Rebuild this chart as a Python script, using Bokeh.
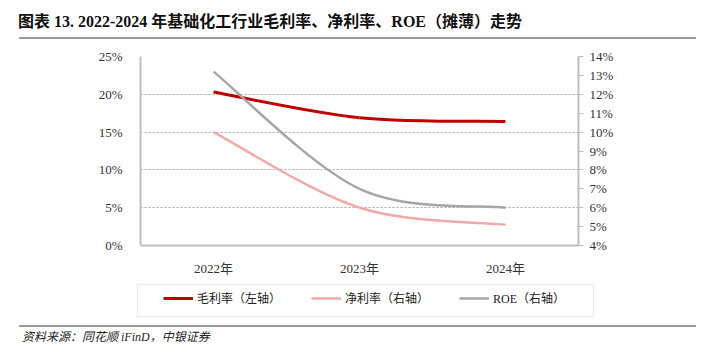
from bokeh.plotting import figure
from bokeh.layouts import column, row
from bokeh.models import (Range1d, LinearAxis, FixedTicker, PrintfTickFormatter,
                          Legend, LegendItem, ColumnDataSource, BoxAnnotation, Div)
from bokeh.embed import file_html
from bokeh.resources import INLINE

# ---------------- data ----------------
years = ["2022年", "2023年", "2024年"]
gross_margin = [20.3, 16.9, 16.4]   # 毛利率, left axis (%)
net_margin = [10.0, 6.0, 5.1]       # 净利率, right axis (%)
roe = [13.2, 7.0, 6.0]              # ROE（摊薄）, right axis (%)
left_ticks = [0, 5, 10, 15, 20, 25]
right_ticks = [4, 5, 6, 7, 8, 9, 10, 11, 12, 13, 14]
legend_labels = ["毛利率（左轴）", "净利率（右轴）", "ROE（右轴）"]
title_text = "图表 13. 2022-2024 年基础化工行业毛利率、净利率、ROE（摊薄）走势"
source_text = "资料来源：同花顺 iFinD，中银证券"

# ---------------- styles / layout ----------------
W = 715
TITLE_H, MAIN_H, LEG_H, SRC_H = 44, 234, 47, 39
FRAME_L, FRAME_R = 140, 578          # page x of frame edges
FRAME_T, FRAME_B = 56, 251           # page y of frame edges

SERIF = "Liberation Serif, Noto Sans CJK SC"
SERIF_CSS = "'Liberation Serif','Noto Sans CJK SC',serif"
AXIS_GRAY = "#BFBFBF"
TEXT = "#333333"
RULE = "#9A9A9A"
C_GM, C_NM, C_ROE = "#C00000", "#F2A9A9", "#A6A6A6"
W_GM, W_NM, W_ROE = 3, 2.5, 2.5
NAN = float("nan")

# ---------------- title strip ----------------
title_div = Div(width=W, height=TITLE_H, margin=0, text=(
    f'<div style="position:relative;width:{W}px;height:{TITLE_H}px;">'
    f'<div style="position:absolute;left:18px;top:12px;font-family:{SERIF_CSS};'
    f'font-size:16px;font-weight:bold;line-height:20px;color:#111111;white-space:nowrap;">'
    f'{title_text}</div>'
    f'<div style="position:absolute;left:19px;top:37px;width:677px;height:2px;background:{RULE};"></div>'
    f'</div>'))

# ---------------- main chart ----------------
top0 = TITLE_H
p = figure(width=W, height=MAIN_H, output_backend="svg", toolbar_location=None,
           x_range=Range1d(0, len(years)), y_range=Range1d(left_ticks[0], left_ticks[-1]),
           min_border_left=FRAME_L, min_border_right=W - FRAME_R,
           min_border_top=FRAME_T - top0,
           min_border_bottom=(top0 + MAIN_H) - FRAME_B)
p.extra_y_ranges = {"right": Range1d(right_ticks[0], right_ticks[-1])}
p.outline_line_color = None
p.background_fill_color = "white"
p.border_fill_color = "white"

xs = [i + 0.5 for i in range(len(years))]

xa = p.xaxis[0]
xa.ticker = FixedTicker(ticks=xs)
xa.major_label_overrides = {x: y for x, y in zip(xs, years)}
xa.axis_line_color = AXIS_GRAY
xa.axis_line_width = 2
xa.major_tick_line_color = None
xa.minor_tick_line_color = None
xa.major_label_standoff = 9
xa.major_label_text_font = SERIF
xa.major_label_text_font_size = "13px"
xa.major_label_text_color = TEXT

ya = p.yaxis[0]
ya.ticker = FixedTicker(ticks=left_ticks)
ya.formatter = PrintfTickFormatter(format="%d%%")
ya.axis_line_color = AXIS_GRAY
ya.axis_line_width = 2
ya.major_tick_line_color = None
ya.minor_tick_line_color = None
ya.major_label_standoff = 12
ya.major_label_text_font = SERIF
ya.major_label_text_font_size = "13px"
ya.major_label_text_color = TEXT

ra = LinearAxis(y_range_name="right", ticker=FixedTicker(ticks=right_ticks),
                formatter=PrintfTickFormatter(format="%d%%"))
ra.axis_line_color = AXIS_GRAY
ra.axis_line_width = 2
ra.major_tick_line_color = AXIS_GRAY
ra.major_tick_out = 5
ra.major_tick_in = 0
ra.minor_tick_line_color = None
ra.major_label_standoff = 6
ra.major_label_text_font = SERIF
ra.major_label_text_font_size = "13px"
ra.major_label_text_color = TEXT
p.add_layout(ra, "right")

p.xgrid.grid_line_color = None
p.ygrid.ticker = FixedTicker(ticks=left_ticks)
p.ygrid.grid_line_color = "#A6A6A6"
p.ygrid.grid_line_dash = "2 2"
p.ygrid.grid_line_width = 1


def smooth_segments(xv, yv):
    """Bezier control points (Catmull-Rom style smoothing through the data points)."""
    n = len(xv)
    P = list(zip(xv, yv))

    def pt(i):
        return P[min(max(i, 0), n - 1)]

    d = {k: [] for k in ["x0", "y0", "x1", "y1", "cx0", "cy0", "cx1", "cy1"]}
    for i in range(n - 1):
        a, b, c, e = pt(i - 1), pt(i), pt(i + 1), pt(i + 2)
        d["x0"].append(b[0]); d["y0"].append(b[1])
        d["x1"].append(c[0]); d["y1"].append(c[1])
        d["cx0"].append(b[0] + (c[0] - a[0]) / 6); d["cy0"].append(b[1] + (c[1] - a[1]) / 6)
        d["cx1"].append(c[0] - (e[0] - b[0]) / 6); d["cy1"].append(c[1] - (e[1] - b[1]) / 6)
    return ColumnDataSource(d)


bz = dict(x0="x0", y0="y0", x1="x1", y1="y1", cx0="cx0", cy0="cy0", cx1="cx1", cy1="cy1")
p.bezier(source=smooth_segments(xs, gross_margin), line_color=C_GM, line_width=W_GM, **bz)
p.bezier(source=smooth_segments(xs, roe), line_color=C_ROE, line_width=W_ROE,
         y_range_name="right", **bz)
p.bezier(source=smooth_segments(xs, net_margin), line_color=C_NM, line_width=W_NM,
         y_range_name="right", **bz)

# ---------------- legend strip ----------------
lg = figure(width=W, height=LEG_H, output_backend="svg", toolbar_location=None,
            x_range=Range1d(0, 1), y_range=Range1d(0, 1),
            x_axis_location=None, y_axis_location=None, min_border=0)
lg.outline_line_color = None
lg.background_fill_color = "white"
lg.border_fill_color = "white"
lg.grid.visible = False
top_l = TITLE_H + MAIN_H
# legend key samples only (NaN -> nothing drawn in the plot area)
k_gm = lg.line(x=[NAN], y=[NAN], line_color=C_GM, line_width=W_GM)
k_nm = lg.line(x=[NAN], y=[NAN], line_color=C_NM, line_width=W_NM)
k_roe = lg.line(x=[NAN], y=[NAN], line_color=C_ROE, line_width=W_ROE)
lg.add_layout(BoxAnnotation(left=137, right=593, top=LEG_H - (284 - top_l), bottom=LEG_H - (316 - top_l),
                            left_units="screen", right_units="screen",
                            top_units="screen", bottom_units="screen",
                            fill_alpha=0, line_color="#C8C8C8", line_width=1.5))
legend = Legend(items=[LegendItem(label=legend_labels[0], renderers=[k_gm]),
                       LegendItem(label=legend_labels[1], renderers=[k_nm]),
                       LegendItem(label=legend_labels[2], renderers=[k_roe])],
                orientation="horizontal", location=(163, LEG_H - (306.5 - top_l)),
                padding=0, margin=0, spacing=30, label_standoff=4,
                glyph_width=30, glyph_height=14, label_height=14,
                border_line_alpha=0, background_fill_alpha=0,
                label_text_font=SERIF, label_text_font_size="12px",
                label_text_color="#222222")
lg.add_layout(legend)

# ---------------- source strip ----------------
source_div = Div(width=W, height=SRC_H, margin=0, text=(
    f'<div style="position:relative;width:{W}px;height:{SRC_H}px;">'
    f'<div style="position:absolute;left:19px;top:0px;width:677px;height:2px;background:{RULE};"></div>'
    f'<div style="position:absolute;left:22px;top:4px;font-family:{SERIF_CSS};'
    f'font-size:12px;font-style:italic;line-height:16px;color:#222222;white-space:nowrap;">'
    f'{source_text}</div>'
    f'</div>'))

layout = column(title_div, p, row(lg), source_div, spacing=0)

open("out.html", "w").write(file_html(layout, INLINE))
